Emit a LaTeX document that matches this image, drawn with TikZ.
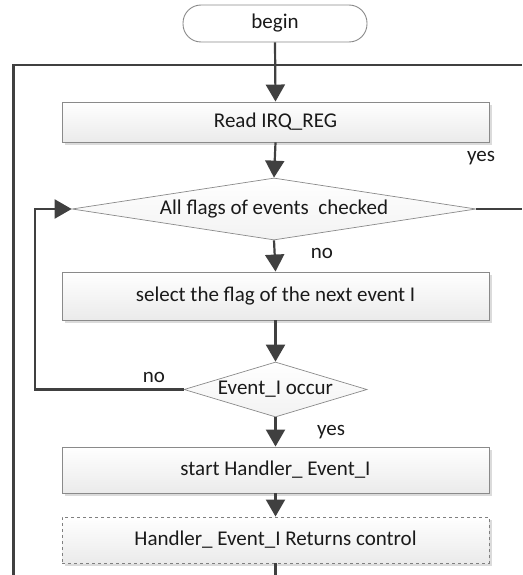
\documentclass[tikz,border=0pt]{standalone}
\usepackage{fontspec}
\setmainfont{Carlito}
\usetikzlibrary{arrows.meta,shapes.geometric,shadows}
\definecolor{conn}{HTML}{404040}
\definecolor{edge}{HTML}{8A8A8A}
\definecolor{txt}{HTML}{1A1A1A}
\begin{document}
\begin{tikzpicture}[x=1pt,y=-1pt,
  font=\fontsize{21}{25}\selectfont, text=txt,
  procbox/.style={rectangle, draw=edge, line width=0.9pt, top color=white, bottom color=black!8,
    minimum width=427pt, inner sep=0pt,
    general shadow={fill=black!14, shadow xshift=3pt, shadow yshift=-3pt}},
  dashbox/.style={procbox, dashed, draw=black!50},
  termbox/.style={rectangle, rounded corners=18pt, draw=edge, line width=0.9pt, fill=white,
    minimum width=184pt, minimum height=37pt, inner sep=0pt},
  decision/.style={diamond, draw=edge, line width=0.7pt, top color=white, bottom color=black!5, inner sep=0pt},
  conline/.style={draw=conn, line width=2.2pt},
  arr/.style={conline, -{Triangle[length=17pt,width=19pt]}},
  lbl/.style={inner sep=0pt}
  ]
\useasboundingbox (0,0) rectangle (522,575);
\node[termbox] (begin) at (275,23.5) {begin};
\node[procbox, minimum height=40pt] (read) at (275.5,122) {Read IRQ\_REG};
\node[decision, minimum width=404pt, minimum height=62pt, aspect=6.5] (d1) at (274,209) {All flags of events\ \ checked};
\node[procbox, minimum height=48pt] (select) at (275.5,296) {select the flag of the next event I};
\node[decision, minimum width=183pt, minimum height=55pt, aspect=3.3] (d2) at (275.5,389.5) {Event\_I occur};
\node[procbox, minimum height=46pt] (start) at (275.5,470) {start Handler\_ Event\_I};
\node[dashbox, minimum height=46pt] (handler) at (275.5,540) {Handler\_ Event\_I Returns control};

\coordinate (lb) at (13.5,575);
\coordinate (tl) at (13.5,65);
\coordinate (tr) at (522,65);
\coordinate (yr) at (522,209);
\coordinate (hb) at (275.5,575);
\coordinate (lx) at (35,389.5);

\draw[conline] (lb) -- (tl) -- (tr);
\draw[arr] (begin.south) -- (read.north);
\draw[arr] (read.south) -- (d1.north);
\draw[conline] (d1.east) -- (yr);
\draw[arr] (d1.south) -- (select.north);
\draw[arr] (select.south) -- (d2.north);
\draw[arr] (d2.west) -- (lx) |- (d1.west);
\draw[arr] (d2.south) -- (start.north);
\draw[arr] (start.south) -- (handler.north);
\draw[conline] (handler.south) -- (hb);

\node[lbl] (yes1) at (481,158) {yes};
\node[lbl] (no1) at (322,253) {no};
\node[lbl] (no2) at (154,377) {no};
\node[lbl] (yes2) at (331,432) {yes};
\end{tikzpicture}
\end{document}
